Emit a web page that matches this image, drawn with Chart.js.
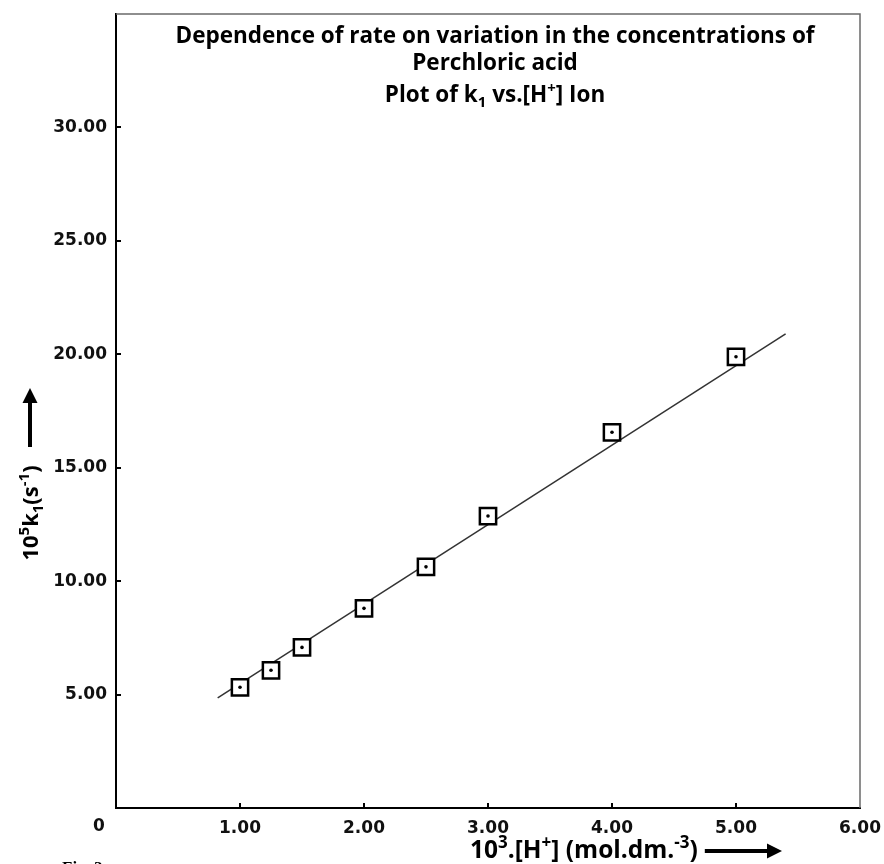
<!DOCTYPE html>
<html><head><meta charset="utf-8">
<script src="https://cdn.jsdelivr.net/npm/chart.js@4/dist/chart.umd.min.js"></script>
<style>html,body{margin:0;padding:0;background:#fff;}#wrap{width:884px;height:864px;position:relative;}</style>
</head><body><div id="wrap"><canvas id="c"></canvas></div>
<script>
// ---- data ----
const concentrations = [1.0, 1.25, 1.5, 2.0, 2.5, 3.0, 4.0, 5.0];   // 10^3 [H+]
const rateConstants  = [5.32, 6.07, 7.08, 8.80, 10.63, 12.87, 16.56, 19.89]; // 10^5 k1
const fitLineX = [0.82, 5.40];
const fitLineY = [4.85, 20.90];
const xTickValues = [0, 1, 2, 3, 4, 5, 6];
const yTickValues = [5, 10, 15, 20, 25, 30];
const titleLines = [
  [["Dependence of rate on variation in the concentrations of","n"]],
  [["Perchloric acid","n"]],
  [["Plot of k","n"],["1","sub"],[" vs.[H","n"],["+","sup"],["] Ion","n"]]
];
const yAxisLabel = [["10","n"],["5","sup"],["k","n"],["1","sub"],["(s","n"],["-1","sup"],[")","n"]];
const xAxisLabel = [["10","n"],["3","sup"],[".[H","n"],["+","sup"],["] (mol.dm.","n"],["-3","sup"],[")","n"]];

const FONT = "'Open Sans', 'DejaVu Sans', sans-serif";

function segFont(kind, size) {
  const s = kind === 'n' ? size : Math.round(size * 0.68);
  return "bold " + s + "px " + FONT;
}
function richWidth(ctx, segs, size) {
  let w = 0;
  for (const [t, k] of segs) { ctx.font = segFont(k, size); w += ctx.measureText(t).width; }
  return w;
}
function drawRich(ctx, segs, x, y, size, align) {
  const w = richWidth(ctx, segs, size);
  let cx = align === 'center' ? x - w / 2 : (align === 'right' ? x - w : x);
  ctx.textAlign = 'left';
  ctx.textBaseline = 'alphabetic';
  for (const [t, k] of segs) {
    ctx.font = segFont(k, size);
    let dy = 0;
    if (k === 'sup') dy = -size * 0.42;
    if (k === 'sub') dy = size * 0.22;
    ctx.fillText(t, cx, y + dy);
    cx += ctx.measureText(t).width;
  }
  return w;
}
function drawArrow(ctx, x1, y1, x2, y2) {
  const ang = Math.atan2(y2 - y1, x2 - x1);
  const head = 15, hw = 7.5;
  const bx = x2 - head * Math.cos(ang), by = y2 - head * Math.sin(ang);
  ctx.beginPath();
  ctx.moveTo(x1, y1); ctx.lineTo(bx, by);
  ctx.lineWidth = 4; ctx.strokeStyle = '#000'; ctx.stroke();
  ctx.beginPath();
  ctx.moveTo(x2, y2);
  ctx.lineTo(bx + hw * Math.sin(ang), by - hw * Math.cos(ang));
  ctx.lineTo(bx - hw * Math.sin(ang), by + hw * Math.cos(ang));
  ctx.closePath(); ctx.fillStyle = '#000'; ctx.fill();
}

const decorPlugin = {
  id: 'decor',
  afterDraw(chart) {
    const ctx = chart.ctx, a = chart.chartArea;
    const xs = chart.scales.x, ys = chart.scales.y;
    ctx.save();
    // top & right frame
    ctx.strokeStyle = '#6a6a6a'; ctx.lineWidth = 1.5;
    ctx.beginPath();
    ctx.moveTo(a.left, a.top); ctx.lineTo(a.right, a.top); ctx.lineTo(a.right, a.bottom);
    ctx.stroke();
    // inward ticks
    ctx.strokeStyle = '#000'; ctx.lineWidth = 2;
    for (const v of yTickValues) {
      const py = Math.round(ys.getPixelForValue(v));
      ctx.beginPath(); ctx.moveTo(a.left, py); ctx.lineTo(a.left + 5, py); ctx.stroke();
    }
    for (const v of xTickValues) {
      if (v === 0 || v === 6) continue;
      const px = Math.round(xs.getPixelForValue(v));
      ctx.beginPath(); ctx.moveTo(px, a.bottom); ctx.lineTo(px, a.bottom - 5); ctx.stroke();
    }
    // "0" label of the x axis, set left of the origin
    ctx.fillStyle = '#111';
    ctx.font = "bold 17px 'DejaVu Sans', sans-serif";
    ctx.textAlign = 'center'; ctx.textBaseline = 'middle';
    ctx.fillText('0', xs.getPixelForValue(0) - 17, 827);
    // title inside the plot
    ctx.fillStyle = '#000';
    const cx = (a.left + a.right) / 2 + 7;
    const baselines = [43, 70, 102];
    titleLines.forEach((segs, i) => drawRich(ctx, segs, cx, baselines[i], 22.5, 'center'));
    // y axis label + arrow
    ctx.save();
    ctx.translate(38, 513);
    ctx.rotate(-Math.PI / 2);
    drawRich(ctx, yAxisLabel, 0, 0, 22, 'center');
    ctx.restore();
    drawArrow(ctx, 30, 447, 30, 388);
    // x axis label + arrow
    const w = drawRich(ctx, xAxisLabel, 470, 858, 24.5, 'left');
    drawArrow(ctx, 470 + w + 7, 851, 782, 851);
    // figure caption (cut by page edge)
    ctx.font = "bold 17px 'Liberation Serif', serif";
    ctx.textAlign = 'left'; ctx.textBaseline = 'alphabetic';
    ctx.fillText('Fig. 2', 62, 873);
    ctx.restore();
  }
};

const points = concentrations.map((x, i) => ({x, y: rateConstants[i]}));
const fitPoints = fitLineX.map((x, i) => ({x, y: fitLineY[i]}));

new Chart(document.getElementById('c'), {
  type: 'scatter',
  data: {
    datasets: [
      { label: 'centre', data: points, pointStyle: 'circle', pointRadius: 1.8,
        pointBackgroundColor: '#000', pointBorderWidth: 0, pointHoverRadius: 1.8 },
      { label: 'k1', data: points, pointStyle: 'rect', pointRadius: 11.5,
        pointBackgroundColor: '#fff', pointBorderColor: '#000', pointBorderWidth: 2.5, pointHoverRadius: 11.5 },
      { label: 'fit', data: fitPoints, showLine: true, pointRadius: 0, borderColor: '#333',
        borderWidth: 1.5, fill: false }
    ]
  },
  options: {
    responsive: true, maintainAspectRatio: false, animation: false,
    layout: { padding: { left: 0, right: 24, top: 11, bottom: 0 } },
    plugins: { legend: { display: false }, tooltip: { enabled: false }, title: { display: false } },
    scales: {
      x: {
        type: 'linear', min: 0, max: 6,
        afterBuildTicks: s => { s.ticks = xTickValues.map(v => ({ value: v })); },
        afterFit: s => { s.height = 56; s.paddingLeft = 0; s.paddingRight = 0; },
        grid: { display: false, drawTicks: false },
        border: { display: true, color: '#000', width: 2 },
        ticks: { padding: 10, color: '#111', font: { family: 'DejaVu Sans', size: 17, weight: 'bold' },
          maxRotation: 0, autoSkip: false,
          callback: v => v === 0 ? '' : Number(v).toFixed(2) }
      },
      y: {
        type: 'linear', min: 0, max: 35,
        afterBuildTicks: s => { s.ticks = yTickValues.map(v => ({ value: v })); },
        afterFit: s => { s.width = 116; s.paddingTop = 0; s.paddingBottom = 0; },
        grid: { display: false, drawTicks: false },
        border: { display: true, color: '#000', width: 2 },
        ticks: { padding: 9, color: '#111', font: { family: 'DejaVu Sans', size: 17, weight: 'bold' },
          autoSkip: false, callback: v => Number(v).toFixed(2) }
      }
    }
  },
  plugins: [decorPlugin]
});
</script>
</body></html>
